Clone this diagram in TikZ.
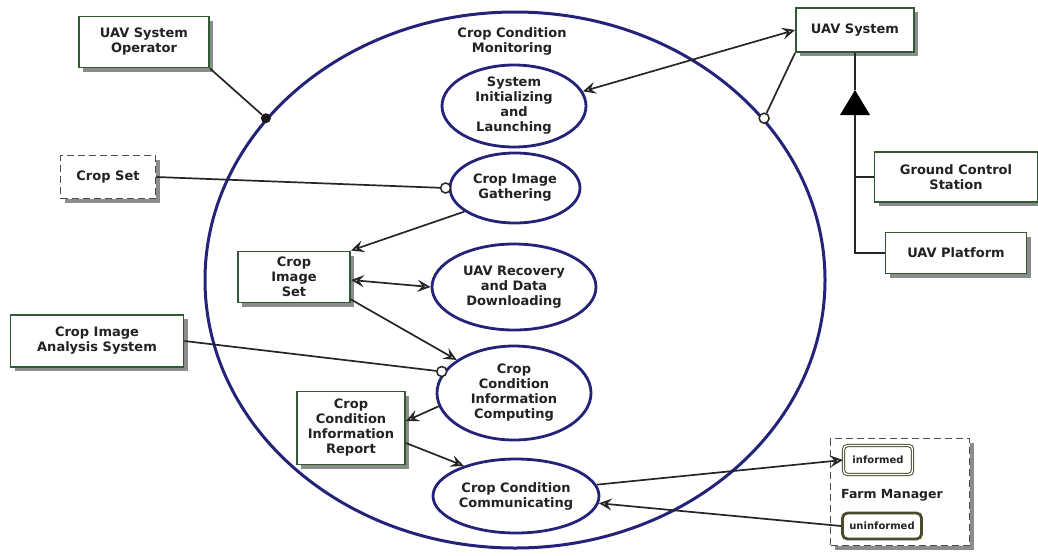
\documentclass[tikz,border=0pt]{standalone}
\usepackage{fontspec}
\setmainfont{DejaVu Sans}
\usetikzlibrary{shapes.geometric,shadows,arrows.meta}
\definecolor{ucblue}{HTML}{23237A}
\definecolor{boxgreen}{HTML}{2F5A34}
\definecolor{shadowgray}{HTML}{8C8C8C}
\definecolor{txt}{HTML}{222222}
\definecolor{fmgray}{HTML}{4A5246}
\definecolor{stateol}{HTML}{4C4A2C}
\begin{document}
\begin{tikzpicture}[x=1pt,y=-1pt,
  every node/.style={font=\fontsize{13}{15}\selectfont\bfseries, text=txt, align=center},
  box/.style={draw=boxgreen, line width=1.9pt, fill=white, inner sep=1pt,
    drop shadow={shadow xshift=4pt, shadow yshift=-4pt, fill=shadowgray, opacity=1}},
  dbox/.style={box, draw=fmgray, dash pattern=on 7pt off 4pt},
  uc/.style={ellipse, draw=ucblue, line width=2.8pt, fill=white, inner sep=0pt},
  conn/.style={line width=1.7pt, draw=black!85},
  ocirc/.style={circle, draw=black!85, line width=1.5pt, fill=white, minimum size=10pt, inner sep=0pt},
  fdot/.style={circle, fill=black!90, minimum size=10pt, inner sep=0pt},
  >={Stealth[open, length=13pt, width=12pt, inset=5pt]},
]
\useasboundingbox (0,0) rectangle (1038,555);
\node[ellipse, draw=ucblue, line width=3pt, minimum width=620pt, minimum height=536pt, inner sep=0pt] (big) at (515,280) {};
\node (title) at (512,41) {Crop Condition\\Monitoring};

% use cases
\node[uc, minimum width=144pt, minimum height=82pt] (init) at (514,106) {};
\node (initt) at (init) {System\\Initializing\\and\\Launching};
\node[uc, minimum width=130pt, minimum height=70pt] (gather) at (515,188) {};
\node (gathert) at (gather) {Crop Image\\Gathering};
\node[uc, minimum width=164pt, minimum height=86pt] (recov) at (514,287) {};
\node (recovt) at (recov) {UAV Recovery\\and Data\\Downloading};
\node[uc, minimum width=154pt, minimum height=94pt] (comp) at (514,393) {};
\node (compt) at (comp) {Crop\\Condition\\Information\\Computing};
\node[uc, minimum width=166pt, minimum height=74pt] (comm) at (516,496) {};
\node (commt) at (comm) {Crop Condition\\Communicating};

% boxes
\node[box, minimum width=130pt, minimum height=51pt] (op) at (144,42) {UAV System\\Operator};
\node[dbox, minimum width=95pt, minimum height=43pt] (cropset) at (108,177) {Crop Set};
\node[box, minimum width=118pt, minimum height=44pt] (uavsys) at (855,30) {UAV System};
\node[box, minimum width=163pt, minimum height=50pt] (gcs) at (956,177) {Ground Control\\Station};
\node[box, minimum width=141pt, minimum height=41pt] (plat) at (956,253) {UAV Platform};
\node[box, minimum width=112pt, minimum height=51pt] (imgset) at (294,277) {Crop\\Image\\Set};
\node[box, minimum width=173pt, minimum height=52pt] (analysis) at (97,341) {Crop Image\\Analysis System};
\node[box, minimum width=108pt, minimum height=73pt] (report) at (351,428) {Crop\\Condition\\Information\\Report};

% farm manager
\node[dbox, minimum width=139pt, minimum height=107pt] (fm) at (900,492) {};
\node[font=\fontsize{12.5}{14}\selectfont\bfseries] (fmlabel) at (892,495) {Farm Manager};
\node[draw=stateol, double, double distance=1.4pt, line width=1pt, rounded corners=4pt, fill=white,
  minimum width=69pt, minimum height=29pt, inner sep=1pt, font=\fontsize{10}{11}\selectfont\bfseries] (informed) at (878,460) {informed};
\node[draw=stateol, line width=2.8pt, rounded corners=5pt, fill=white,
  minimum width=79pt, minimum height=26pt, inner sep=1pt, font=\fontsize{10}{11}\selectfont\bfseries] (uninformed) at (882,526) {uninformed};

% generalization
\coordinate (genapex) at (855,90);
\coordinate (genbase) at (855,115);
\fill[black] (genapex) -- (840,115) -- (870,115) -- cycle;
\draw[conn] (uavsys.south) -- (genapex);
\draw[conn] (genbase) |- (plat.west);
\draw[conn] (genbase |- gcs.west) -- (gcs.west);

% connectors
\node[fdot] (opdot) at (big.147.4) {};
\draw[conn] (op.south east) -- (opdot);
\node[ocirc] (gatherc) at ([xshift=-3pt]gather.west) {};
\draw[conn] (cropset.east) -- (gatherc);
\draw[conn,<->] (init.12) -- (uavsys.west);
\node[ocirc] (bigc) at (big.33) {};
\draw[conn] (uavsys.south west) -- (bigc);
\draw[conn,->] (gather.205) -- (imgset.north east);
\draw[conn,<->] ([yshift=-3pt]imgset.east) -- (recov.west);
\draw[conn,->] ([yshift=4pt]imgset.south east) -- (comp.150);
\node[ocirc] (compc) at ([xshift=-2pt]comp.163) {};
\draw[conn] (analysis.east) -- (compc);
\draw[conn,->] (comp.190) -- ([yshift=7pt]report.east);
\draw[conn,->] ([yshift=-15pt]report.east) -- (comm.150);
\draw[conn,->] (comm.8) -- (informed.west);
\draw[conn,->] (uninformed.west) -- (comm.-5);
\end{tikzpicture}
\end{document}
